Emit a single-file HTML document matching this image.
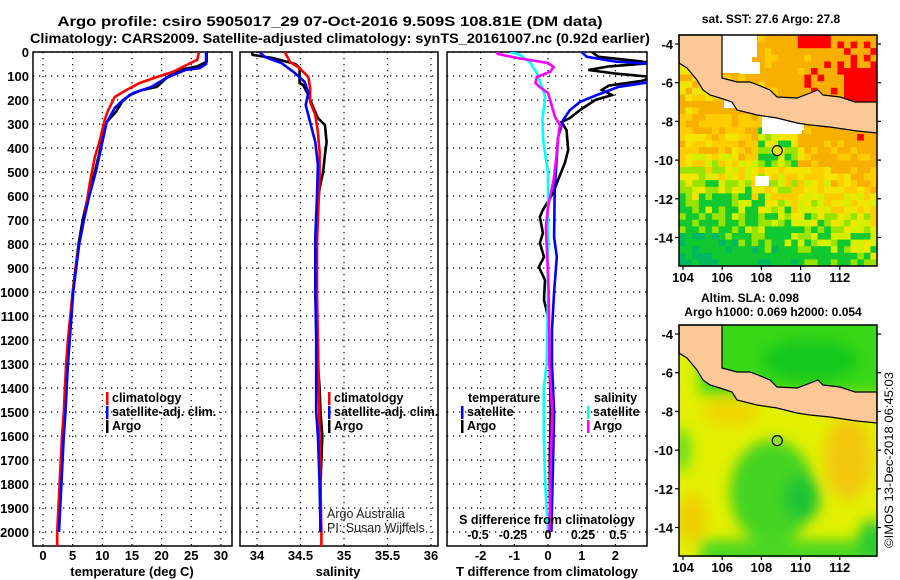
<!DOCTYPE html>
<html><head><meta charset="utf-8"><title>Argo profile</title>
<style>
html,body{margin:0;padding:0;background:#fff;}
svg{display:block;font-family:"Liberation Sans",Arial,sans-serif;}
.b{font-weight:bold;}
</style></head>
<body>
<svg id="root" width="900" height="580" viewBox="0 0 900 580" xmlns="http://www.w3.org/2000/svg">
<defs>
<clipPath id="c1"><rect x="33" y="52" width="199" height="494"/></clipPath>
<clipPath id="c2"><rect x="240" y="52" width="198" height="494"/></clipPath>
<clipPath id="c3"><rect x="447" y="52" width="200" height="494"/></clipPath>
<clipPath id="cm1"><rect x="679" y="35" width="198" height="231"/></clipPath>
<clipPath id="cm2"><rect x="679" y="325" width="198" height="232"/></clipPath>
<filter id="blur" x="-20%" y="-20%" width="140%" height="140%"><feGaussianBlur stdDeviation="7"/></filter>
</defs>
<text x="330" y="26" text-anchor="middle" class="b" font-size="14" textLength="545" lengthAdjust="spacingAndGlyphs">Argo profile: csiro 5905017_29 07-Oct-2016 9.509S 108.81E (DM data)</text>
<text x="340" y="43" text-anchor="middle" class="b" font-size="14" textLength="620" lengthAdjust="spacingAndGlyphs">Climatology: CARS2009. Satellite-adjusted climatology: synTS_20161007.nc (0.92d earlier)</text>
<g id="p1"></g>
<g id="p2"></g>
<g id="p3"></g>
<g id="m1"></g>
<g id="m2"></g>
<text x="771" y="23" text-anchor="middle" class="b" font-size="12">sat. SST: 27.6 Argo: 27.8</text>
<text x="750" y="302" text-anchor="middle" class="b" font-size="12">Altim. SLA: 0.098</text>
<text x="773" y="316" text-anchor="middle" class="b" font-size="12">Argo h1000: 0.069 h2000: 0.054</text>
<text transform="translate(893,460) rotate(-90)" text-anchor="middle" font-size="12" textLength="176" lengthAdjust="spacingAndGlyphs">©IMOS 13-Dec-2018 06:45:03</text>
</svg>
<script>
// ---------- data ----------
const depthTicks = [0,100,200,300,400,500,600,700,800,900,1000,1100,1200,1300,1400,1500,1600,1700,1800,1900,2000];
const tempTicks = [0,5,10,15,20,25,30];
const salTicks = [34,34.5,35,35.5,36];
const salTickLabels = ["34","34.5","35","35.5","36"];
const tdiffTicks = [-2,-1,0,1,2];
const sdiffTicks = [-0.5,-0.25,0,0.25,0.5];
const sdiffTickLabels = ["-0.5","-0.25","0","0.25","0.5"];

const argoTDep = [0,40,60,75,104,145,160,179,208,250,300,400,500,600,700,800,900,1000,1100,1200,1300,1400,1500,1600,1700,1800,1900,2000];
const argoT = [27.6,27.6,26,23,21,19.2,16.5,14.6,13.3,12.3,10.4,9.7,8.75,7.6,6.7,6.0,5.5,5.0,4.7,4.3,4.0,3.8,3.6,3.3,3.1,2.9,2.7,2.5];
const climTDep = [0,33,54,83,104,129,158,187,242,283,367,437,546,687,800,900,1000,1100,1200,1300,1400,1500,1600,1700,1800,1900,2000,2060];
const climT = [26.3,26,24.2,21.9,19.2,16.3,14.1,12.1,11,10.4,9.6,8.75,7.9,7,6.1,5.5,5.0,4.6,4.2,3.9,3.7,3.5,3.2,3.0,2.8,2.6,2.4,2.4];
const satTDep = [0,50,67,75,108,145,171,200,233,296,400,500,600,700,800,900,1000,1100,1200,1300,1400,1500,1600,1700,1800,1900,2000];
const satT = [27.5,27.5,26.4,24,20.8,18.3,15.2,13.5,12.1,10.7,9.8,8.9,7.8,6.9,6.1,5.6,5.1,4.8,4.5,4.2,4.0,3.8,3.5,3.3,3.1,2.9,2.7];

const argoSDep = [0,12,25,50,67,130,137,179,233,275,304,375,430,500,567,637,721,792,900,1000,1100,1200,1300,1400,1500,1600,1700,1800,1900,2000];
const argoS = [33.94,33.95,34.18,34.44,34.49,34.49,34.53,34.59,34.65,34.70,34.78,34.80,34.78,34.76,34.72,34.70,34.68,34.67,34.67,34.67,34.68,34.69,34.70,34.72,34.73,34.75,34.74,34.73,34.73,34.73];
const climSDep = [0,42,67,104,150,208,262,333,417,525,700,800,1000,1200,1400,1600,1800,2000,2060];
const climS = [34.32,34.38,34.49,34.59,34.61,34.61,34.67,34.70,34.72,34.72,34.70,34.69,34.69,34.70,34.71,34.72,34.73,34.74,34.74];
const satSDep = [0,21,46,83,125,171,221,292,375,471,596,775,900,1000,1200,1400,1500,1600,1800,2000];
const satS = [34.03,34.09,34.28,34.42,34.55,34.59,34.56,34.61,34.67,34.70,34.69,34.67,34.67,34.67,34.68,34.68,34.68,34.70,34.72,34.73];

const argoDTDep = [0,20,35,46,60,75,90,104,120,140,158,179,200,242,275,292,325,408,462,533,587,658,687,754,796,854,896,950,1033,1104,1300,1500,1700,1900,2000];
const argoDT = [1.3,1.5,2.5,3.1,1.8,1.2,2.0,3.1,2.8,1.8,1.6,1.9,1.4,0.95,0.65,0.4,0.55,0.6,0.5,0.3,0.15,-0.15,-0.24,-0.15,-0.24,-0.12,-0.27,-0.09,-0.12,0,0.05,0.08,0.05,0.06,0.05];
const satDTDep = [0,20,40,54,116,145,179,208,242,283,354,437,575,771,854,1000,1158,1300,1500,1700,2000];
const satDT = [1.0,1.15,2.0,3.5,3.5,2.1,1.45,0.95,0.65,0.45,0.3,0.26,0.2,0.18,0.26,0.18,0.12,0.12,0.18,0.15,0.1];
const satDSDep = [0,12,42,88,150,187,283,367,504,700,1000,1300,1400,1600,1800,2000];
const satDS = [-0.27,-0.2,-0.13,-0.08,-0.04,-0.02,-0.04,-0.035,0,0,0,-0.01,-0.03,-0.03,-0.02,0];
const argoDSDep = [0,8,25,46,62,83,104,129,146,171,229,271,304,367,437,533,646,729,1000,1300,1500,1700,2000];
const argoDS = [-0.36,-0.36,-0.22,0,0.04,0.015,-0.08,-0.09,-0.06,0,0.03,0.05,0.085,0.07,0.06,0.04,0,-0.015,0.005,0.01,0.03,0.02,0.01];

const lonTicks = [104,106,108,110,112];
const latTicks = [-4,-6,-8,-10,-12,-14];
const argoLon = 108.81, argoLat = -9.509;

// ---------- scales ----------
const NS = "http://www.w3.org/2000/svg";
const yD = d => 52 + d * 0.24;
const xT = t => 43 + t * 5.93;
const xS = s => 257 + (s - 34) * 87;
const xDT = d => 548 + d * 33.7;
const xDS = s => 548 + s * 140;
const mx = lon => 683 + (lon - 104) * 19.6;
const my = lat => 44 + (-4 - lat) * 19.35;

function mk(tag, attrs, parent) {
  const e = document.createElementNS(NS, tag);
  for (const k in attrs) e.setAttribute(k, attrs[k]);
  parent.appendChild(e);
  return e;
}

function frame(g, x0, x1, vticks, xf, name) {
  const grid = mk('g', {}, g);
  
  
  depthTicks.forEach(d => {
    const l = mk('line', {x1: x0, x2: x1, y1: yD(d), y2: yD(d), stroke: '#000', 'stroke-width': 1.2, 'stroke-dasharray': '1.3,4.7'}, grid);
    
    
  });
  vticks.forEach(v => {
    const l = mk('line', {x1: xf(v), x2: xf(v), y1: 52, y2: 546, stroke: '#000', 'stroke-width': 1.2, 'stroke-dasharray': '1.3,4.7'}, grid);
    
    
  });
  const r = mk('rect', {x: x0, y: 52, width: x1 - x0, height: 494, fill: 'none', stroke: '#000', 'stroke-width': 1.5}, g);
  
  
}

function series(g, clip, dep, val, xf, color, name) {
  const pts = dep.map((d, i) => xf(val[i]).toFixed(1) + ',' + yD(d).toFixed(1)).join(' ');
  const p = mk('polyline', {points: pts, fill: 'none', stroke: color, 'stroke-width': 2.6, 'stroke-linejoin': 'miter', 'clip-path': 'url(#' + clip + ')'}, g);
  
  
}

function txt(g, x, y, s, size, anchor, bold, fill) {
  const t = mk('text', {x: x, y: y, 'font-size': size, 'text-anchor': anchor, fill: fill || '#000'}, g);
  if (bold) t.setAttribute('font-weight', 'bold');
  t.textContent = s;
  return t;
}

function legendItem(g, x, y, color, label) {
  const bar = mk('rect', {x: x, y: y - 10, width: 2.5, height: 13, fill: color}, g);
  
  
  const t = txt(g, x + 6, y, label, 12.5, 'start', true);
  
  
}

// ---------- panel 1: temperature ----------
const p1 = document.getElementById('p1');
frame(p1, 33, 232, tempTicks, xT, 'temperature');
series(p1, 'c1', argoTDep, argoT, xT, '#000', 'argo-temperature-line');
series(p1, 'c1', climTDep, climT, xT, '#f00', 'climatology-temperature-line');
series(p1, 'c1', satTDep, satT, xT, '#00f', 'satellite-temperature-line');
depthTicks.forEach(d => {
  const t = txt(p1, 29, yD(d) + 5, String(d), 13, 'end', true);
  
  
});
tempTicks.forEach(v => {
  const t = txt(p1, xT(v), 560, String(v), 13, 'middle', true);
  
  
});
const xt1 = txt(p1, 132, 576, 'temperature (deg C)', 13, 'middle', true);


legendItem(p1, 106, 402, '#f00', 'climatology');
legendItem(p1, 106, 416, '#00f', 'satellite-adj. clim.');
legendItem(p1, 106, 430, '#000', 'Argo');

// ---------- panel 2: salinity ----------
const p2 = document.getElementById('p2');
frame(p2, 240, 438, salTicks, xS, 'salinity');
series(p2, 'c2', argoSDep, argoS, xS, '#000', 'argo-salinity-line');
series(p2, 'c2', climSDep, climS, xS, '#f00', 'climatology-salinity-line');
series(p2, 'c2', satSDep, satS, xS, '#00f', 'satellite-salinity-line');
salTicks.forEach((v, i) => {
  const t = txt(p2, xS(v), 560, salTickLabels[i], 13, 'middle', true);
  
  
});
const xt2 = txt(p2, 338, 576, 'salinity', 13, 'middle', true);


legendItem(p2, 328, 402, '#f00', 'climatology');
legendItem(p2, 328, 416, '#00f', 'satellite-adj. clim.');
legendItem(p2, 328, 430, '#000', 'Argo');
const cr1 = txt(p2, 327, 518, 'Argo Australia', 12.5, 'start', false, '#222');


const cr2 = txt(p2, 327, 532, 'PI: Susan Wijffels', 12.5, 'start', false, '#222');



// ---------- panel 3: differences ----------
const p3 = document.getElementById('p3');
frame(p3, 447, 647, tdiffTicks, xDT, 'difference');
series(p3, 'c3', argoDTDep, argoDT, xDT, '#000', 'argo-temperature-difference-line');
series(p3, 'c3', satDTDep, satDT, xDT, '#00f', 'satellite-temperature-difference-line');
series(p3, 'c3', satDSDep, satDS, xDS, '#0ff', 'satellite-salinity-difference-line');
series(p3, 'c3', argoDSDep, argoDS, xDS, '#f0f', 'argo-salinity-difference-line');
tdiffTicks.forEach(v => {
  const t = txt(p3, xDT(v), 560, String(v), 13, 'middle', true);
  
  
});
sdiffTicks.forEach((v, i) => {
  const t = txt(p3, xDS(v), 539, sdiffTickLabels[i], 12.5, 'middle', true);
  
  
});
const xt3 = txt(p3, 547, 576, 'T difference from climatology', 13, 'middle', true);


const xt4 = txt(p3, 547, 524, 'S difference from climatology', 12.5, 'middle', true);


const lh1 = txt(p3, 468, 402, 'temperature', 12.5, 'start', true);


const lh2 = txt(p3, 594, 402, 'salinity', 12.5, 'start', true);


legendItem(p3, 461, 416, '#00f', 'satellite');
legendItem(p3, 461, 430, '#000', 'Argo');
legendItem(p3, 587, 416, '#0ff', 'satellite');
legendItem(p3, 587, 430, '#f0f', 'Argo');

// ---------- maps ----------
const landPts = [[679,35],[722,35],[722,78],[737,82],[750,82],[758,85],[770,90],[777,97],[797,98],[813,92],[818,90],[823,95],[840,97],[855,102],[877,102],[877,133],[857,131],[830,127],[810,125],[797,123],[777,118],[757,115],[737,110],[732,102],[720,98],[710,95],[703,90],[697,80],[687,68],[679,63]];

function mapDecor(g, dy, circleFill, nameBase) {
  const land = mk('polygon', {points: landPts.map(p => p[0] + ',' + (p[1] + dy)).join(' '), fill: '#fcc898', stroke: '#000', 'stroke-width': 1.2}, g);
  
  
  const c = mk('circle', {cx: mx(argoLon), cy: my(argoLat) + dy, r: 5, fill: circleFill, stroke: '#000', 'stroke-width': 1.2}, g);
  
  
  const fr = mk('rect', {x: 679, y: 35 + dy, width: 198, height: 231, fill: 'none', stroke: '#000', 'stroke-width': 1.5}, g);
  
  
  lonTicks.forEach(v => {
    const tk = mk('line', {x1: mx(v), x2: mx(v), y1: 266 + dy, y2: 270 + dy, stroke: '#000', 'stroke-width': 1.2}, g);
    
    
    const t = txt(g, mx(v), 282 + dy, String(v), 13, 'middle', true);
    
    
  });
  latTicks.forEach(v => {
    const tk = mk('line', {x1: 675, x2: 679, y1: my(v) + dy, y2: my(v) + dy, stroke: '#000', 'stroke-width': 1.2}, g);
    
    
    const tk2 = mk('line', {x1: 877, x2: 881, y1: my(v) + dy, y2: my(v) + dy, stroke: '#000', 'stroke-width': 1.2}, g);
    
    
    const t = txt(g, 673, my(v) + dy + 5, String(v), 13, 'end', true);
    
    
  });
}

// SST map texture
const m1 = document.getElementById('m1');
const cells = mk('g', {'clip-path': 'url(#cm1)'}, m1);


function hsh(i, j) { const v = Math.sin(i * 12.9898 + j * 78.233) * 43758.5453; return v - Math.floor(v) - 0.5; }
function sstColor(t) {
  if (t > 1.15) return '#ff0000';
  if (t > 0.75) return '#f8b000';
  if (t > 0.55) return '#ffcc00';
  if (t > 0.4) return '#f2e600';
  if (t > 0.28) return '#d4f000';
  if (t > 0.15) return '#98e400';
  if (t > -0.2) return '#10c830';
  if (t > -0.38) return '#00b860';
  return '#00c0b0';
}
const cs = 6.6;
for (let i = 0; i < 31; i++) {
  for (let j = 0; j < 36; j++) {
    const x = 679 + i * cs, y = 35 + j * cs, cx = x + cs / 2, cy = y + cs / 2;
    const h = hsh(i, j);
    let t;
    if (cy < 100) {
      t = 0.8 + 0.35 * (cx - 750) / 127 + h * 0.45;
      if (cy < 45 && cx > 795 && cx < 832) t += 0.5;
      if (cx > 845 && cy > 70) t += 0.4;
    } else {
      t = 0.78 - 1.1 * (cy - 110) / 156 + 0.42 * (cx - 679) / 198 + h * 0.5;
      if (cx > 852 && cy < 120) t += 0.6;
      if (cx > 755 && cx < 795 && cy > 128 && cy < 165) t -= 0.5;
    }
    const r = mk('rect', {x: x.toFixed(1), y: y.toFixed(1), width: cs + 0.3, height: cs + 0.3, fill: sstColor(t)}, cells);
    
    
  }
}
[[722,35,30,38],[745,35,12,22],[740,62,20,12],[724,98,12,10],[762,116,40,18],[790,110,14,20],[755,176,14,10],[820,108,18,8]].forEach(w => {
  const r = mk('rect', {x: w[0], y: w[1], width: w[2], height: w[3], fill: '#fff'}, cells);
  
  
});
mapDecor(m1, 0, '#e4e800', 'sst-map');

// SLA map
const m2 = document.getElementById('m2');
const sla = mk('g', {'clip-path': 'url(#cm2)'}, m2);


const base = mk('rect', {x: 679, y: 325, width: 198, height: 232, fill: '#e2f000'}, sla);


const blobs = mk('g', {filter: 'url(#blur)'}, sla);


[
  ['rect', {x: 700, y: 300, width: 200, height: 95, fill: '#38d818'}],
  ['ellipse', {cx: 810, cy: 360, rx: 50, ry: 22, fill: '#14c81c'}],
  ['ellipse', {cx: 730, cy: 412, rx: 28, ry: 14, fill: '#f0d400'}],
  ['ellipse', {cx: 848, cy: 458, rx: 24, ry: 42, fill: '#f2c810'}],
  ['ellipse', {cx: 692, cy: 518, rx: 14, ry: 24, fill: '#f0cc00'}],
  ['ellipse', {cx: 772, cy: 492, rx: 42, ry: 52, fill: '#44d424'}],
  ['ellipse', {cx: 802, cy: 498, rx: 18, ry: 24, fill: '#1cc434'}],
  ['rect', {x: 700, y: 540, width: 200, height: 30, fill: '#4cd820'}],
  ['ellipse', {cx: 682, cy: 450, rx: 8, ry: 22, fill: '#5cdc20'}],
  ['ellipse', {cx: 872, cy: 540, rx: 14, ry: 20, fill: '#28cc30'}]
].forEach(b => {
  const e = mk(b[0], b[1], blobs);
  
  
});
mapDecor(m2, 290, '#90e030', 'sla-map');
</script>
</body></html>
